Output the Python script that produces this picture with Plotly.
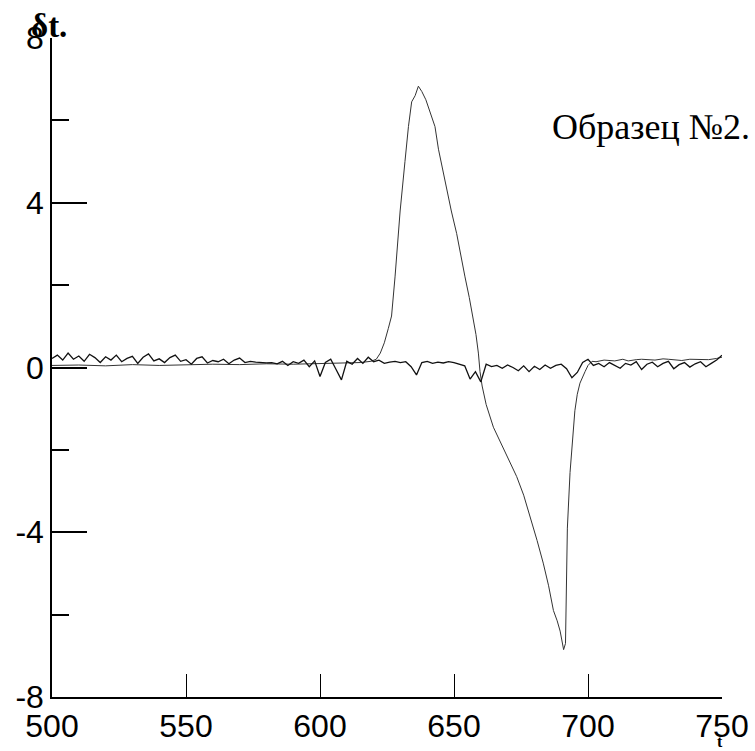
import plotly.graph_objects as go

# ---- data ----
t_base = list(range(500, 751, 2))
dt_base = [
    0.22, 0.30, 0.18, 0.35, 0.20, 0.28, 0.15, 0.32, 0.24, 0.12, 0.26,
    0.18, 0.30, 0.14, 0.22, 0.27, 0.10, 0.25, 0.33, 0.16, 0.21,
    0.12, 0.24, 0.30, 0.15, 0.19, 0.08, 0.22, 0.26, 0.11, 0.17,
    0.14, 0.20, 0.09, 0.18, 0.23, 0.12, 0.15, 0.13, 0.12, 0.11,
    0.12, 0.09, 0.15, 0.05, 0.14, 0.10, 0.18, 0.02, 0.16, -0.22,
    0.12, 0.20, -0.05, -0.30, 0.15, 0.08, 0.22, 0.10, 0.25, 0.14,
    0.18, 0.10, 0.13, 0.15, 0.12, 0.14, 0.02, -0.18, 0.12, 0.15,
    0.10, 0.13, 0.11, 0.14, 0.12, 0.08, 0.04, -0.28, -0.10, -0.35,
    0.08, 0.02, 0.05, -0.02, 0.06, 0.00, -0.08, 0.04, -0.10, 0.03,
    -0.05, 0.06, -0.02, 0.05, 0.08, -0.03, -0.25, -0.12, 0.12, 0.20,
    0.05, 0.10, 0.02, 0.12, 0.04, -0.02, 0.10, 0.06, 0.14, -0.05,
    0.08, 0.13, 0.02, 0.10, 0.15, -0.03, 0.07, 0.12, 0.01, 0.09,
    0.14, 0.02, 0.10, 0.18, 0.30,
]

t_sig = [500, 510, 520, 530, 540, 550, 560, 570, 580, 590, 600, 610, 615, 619,
         621, 622.5, 624, 625.5, 626.7, 628, 629.9, 631.7, 633, 634.2, 635.5,
         636.7, 638, 639.5, 641, 642.9, 644.2, 645.5, 647.3, 649, 651, 652.5,
         654.1, 655.7, 657.2, 658.2, 659.1, 659.7, 660.5, 662, 664.7, 666.5,
         668.4, 671, 673.4, 676, 678.4, 681, 683.3, 685.3, 687.1, 688.5, 689.6,
         690.4, 690.9, 691.6, 692, 692.3, 693.3, 694.2, 695.1, 696, 697, 698.9,
         700, 701.5, 703, 706, 710, 713, 715, 718, 720, 725, 728, 730, 735, 738,
         740, 745, 748, 750]
dt_sig = [0.05, 0.06, 0.04, 0.07, 0.05, 0.06, 0.08, 0.07, 0.09, 0.08, 0.10, 0.11, 0.12, 0.15,
          0.20, 0.35, 0.60, 0.95, 1.25, 2.20, 3.80, 5.00, 5.85, 6.45, 6.60,
          6.83, 6.70, 6.50, 6.20, 5.85, 5.30, 4.90, 4.30, 3.80, 3.25, 2.70,
          2.20, 1.70, 1.20, 0.80, 0.35, -0.10, -0.45, -0.90, -1.45, -1.70,
          -1.95, -2.30, -2.65, -3.10, -3.60, -4.20, -4.75, -5.30, -5.90, -6.15, -6.40,
          -6.75, -6.85, -6.70, -5.50, -3.90, -2.55, -1.70, -1.05, -0.65, -0.38, -0.10,
          0.05, 0.15, 0.14, 0.18, 0.16, 0.20, 0.16, 0.19, 0.20, 0.18, 0.21, 0.20, 0.17, 0.20,
          0.20, 0.19, 0.22, 0.25]

x_ticks = [500, 550, 600, 650, 700, 750]
y_ticks = [-8, -4, 0, 4, 8]

fig = go.Figure()
fig.add_trace(go.Scatter(x=t_sig, y=dt_sig, mode="lines",
                         line=dict(color="#333333", width=1), showlegend=False))
fig.add_trace(go.Scatter(x=t_base, y=dt_base, mode="lines",
                         line=dict(color="#111111", width=1.3), showlegend=False))

L, R, T, B = 52, 33, 38, 54
W, H = 755, 751
pw, ph = W - L - R, H - T - B

def px(x):
    return (x - L) / pw

def py(y):
    return (H - B - y) / ph

tick_font = dict(family="Liberation Sans Narrow, Arial Narrow, Liberation Sans, sans-serif",
                 size=32, color="black")

fig.update_layout(
    width=W, height=H,
    margin=dict(l=L, r=R, t=T, b=B),
    paper_bgcolor="white", plot_bgcolor="white",
    xaxis=dict(range=[500, 750], tickvals=x_ticks, ticktext=[str(v) for v in x_ticks],
               automargin=False,
               showgrid=False, zeroline=False, showline=True, linecolor="black", linewidth=1.5,
               ticks="inside", ticklen=23, tickwidth=1.2, tickcolor="black",
               tickfont=tick_font),
    yaxis=dict(range=[-8, 8], tickvals=y_ticks, ticktext=[str(v) for v in y_ticks],
               automargin=False,
               showgrid=False, zeroline=False, showline=True, linecolor="black", linewidth=1.5,
               ticks="inside", ticklen=35, tickwidth=1.5, tickcolor="black",
               minor=dict(dtick=2, ticks="inside", ticklen=17, tickwidth=1.5, tickcolor="black",
                          showgrid=False),
               tickfont=tick_font),
    annotations=[
        dict(text="<b>δt.</b>", xref="paper", yref="paper", x=px(49), y=py(26),
             xanchor="center", yanchor="middle", showarrow=False,
             font=dict(family="Liberation Serif, Times New Roman, serif", size=33, color="black")),
        dict(text="Образец №2.", xref="paper", yref="paper", x=px(752), y=py(127),
             xanchor="right", yanchor="middle", showarrow=False,
             font=dict(family="Liberation Serif, Times New Roman, serif", size=36, color="black")),
        dict(text="<b>t</b>", xref="paper", yref="paper", x=px(720), y=py(751),
             xanchor="center", yanchor="bottom", showarrow=False, borderpad=0,
             font=dict(family="Liberation Serif, Times New Roman, serif", size=16, color="black")),
    ],
)

fig.write_html("out.html", config={"displayModeBar": False},
               post_script="document.body.style.margin='0';document.body.style.overflow='hidden';")
